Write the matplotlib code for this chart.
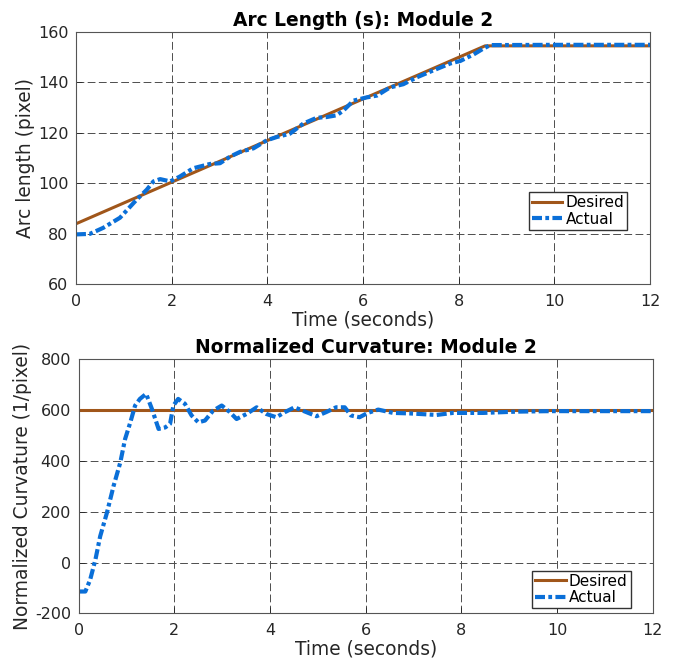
import numpy as np
import matplotlib.pyplot as plt

# arc length, module 2
t_des_arc = [0, 8.55, 12]
arc_des = [84, 154.5, 154.5]

t_arc = [0, 0.29, 0.57, 0.92, 1.27, 1.48, 1.62, 1.76, 1.97, 2.17, 2.45, 2.80, 3.01,
         3.22, 3.43, 3.71, 3.99, 4.20, 4.47, 4.75, 5.03, 5.24, 5.45, 5.59, 5.80,
         6.08, 6.29, 6.56, 6.84, 7.12, 7.47, 7.82, 8.03, 8.31, 8.52, 8.66, 10, 12]
arc_act = [79.8, 80.0, 82.4, 86.4, 93.6, 97.5, 100.8, 101.7, 100.8, 102.7, 106, 107.7, 108,
           110.6, 112.5, 113.9, 117.1, 118.4, 119.7, 123.7, 126, 126.3, 127, 128.9, 132.8,
           134.1, 134.8, 138, 139.3, 142, 144.8, 147.5, 148.5, 151.1, 153.5, 154.8, 154.9, 154.9]

# normalized curvature, module 2
t_des_k = [0, 12]
k_des = [600, 600]

t_k = [0, 0.14, 0.24, 0.35, 0.45, 0.59, 0.73, 0.87, 0.97, 1.08, 1.18, 1.28, 1.41, 1.53,
       1.67, 1.81, 1.91, 1.98, 2.08, 2.22, 2.36, 2.50, 2.64, 2.81, 2.99, 3.16, 3.30,
       3.51, 3.72, 3.92, 4.13, 4.31, 4.51, 4.76, 4.97, 5.17, 5.38, 5.56, 5.69, 5.87,
       6.04, 6.26, 6.57, 6.92, 7.48, 7.82, 8.45, 9.15, 9.84, 12]
k_act = [-114, -114, -68, 11, 103, 195, 301, 393, 485, 551, 617, 643, 663, 604,
         525, 531, 545, 617, 643, 624, 578, 551, 558, 597, 617, 591, 564,
         584, 610, 584, 571, 591, 610, 591, 575, 591, 610, 610, 578, 571,
         588, 601, 588, 586, 580, 588, 588, 593, 595, 595]

brown = '#a0561a'
blue = '#0a6fd8'
txt = '#262626'
dash = (0, (2.4, 0.8, 0.9, 0.8))

plt.rcParams['font.family'] = 'DejaVu Sans'
plt.rcParams['axes.unicode_minus'] = False
fig = plt.figure(figsize=(6.78, 6.66), dpi=100)
ax1 = fig.add_axes([0.112, 0.573, 0.847, 0.379])
ax2 = fig.add_axes([0.116, 0.079, 0.847, 0.382])

def style(ax):
    ax.grid(True, linestyle=(0, (8, 3.5)), color='#4d4d4d', linewidth=0.7)
    ax.tick_params(direction='in', length=4, labelsize=11.5, colors=txt, width=0.6)
    ax.tick_params(axis='x', pad=7)
    ax.tick_params(axis='y', pad=5.5)
    for s in ax.spines.values():
        s.set_color('#555555')
        s.set_linewidth(0.8)
    ax.set_xlim(0, 12)
    ax.set_xticks(np.arange(0, 13, 2))

ax1.plot(t_des_arc, arc_des, color=brown, lw=2.2, label='Desired')
ax1.plot(t_arc, arc_act, color=blue, lw=3, linestyle=dash, label='Actual')
style(ax1)
ax1.set_ylim(60, 160)
ax1.set_yticks(np.arange(60, 161, 20))
ax1.set_xlabel('Time (seconds)', fontsize=13.4, color=txt, labelpad=1)
ax1.set_ylabel('Arc length (pixel)', fontsize=13.4, color=txt, labelpad=2)
ax1.set_title('Arc Length (s): Module 2', fontsize=13.4, fontweight='bold', pad=4)
ax1.legend(loc='lower right', bbox_to_anchor=(0.96, 0.217), borderaxespad=0,
           fontsize=11, fancybox=False, edgecolor='#333333', framealpha=1,
           handlelength=2.0, handletextpad=0.2, labelspacing=0.1, borderpad=0.2)

ax2.plot(t_des_k, k_des, color=brown, lw=2.2, label='Desired')
ax2.plot(t_k, k_act, color=blue, lw=3, linestyle=dash, label='Actual')
style(ax2)
ax2.set_ylim(-200, 800)
ax2.set_yticks(np.arange(-200, 801, 200))
ax2.set_xlabel('Time (seconds)', fontsize=13.4, color=txt, labelpad=1)
ax2.set_ylabel('Normalized Curvature (1/pixel)', fontsize=13.4, color=txt, labelpad=2)
ax2.set_title('Normalized Curvature: Module 2', fontsize=13.4, fontweight='bold', pad=4)
ax2.legend(loc='lower right', bbox_to_anchor=(0.961, 0.02), borderaxespad=0,
           fontsize=11, fancybox=False, edgecolor='#333333', framealpha=1,
           handlelength=2.0, handletextpad=0.2, labelspacing=0.1, borderpad=0.2)

plt.savefig('out.png', dpi=100)
